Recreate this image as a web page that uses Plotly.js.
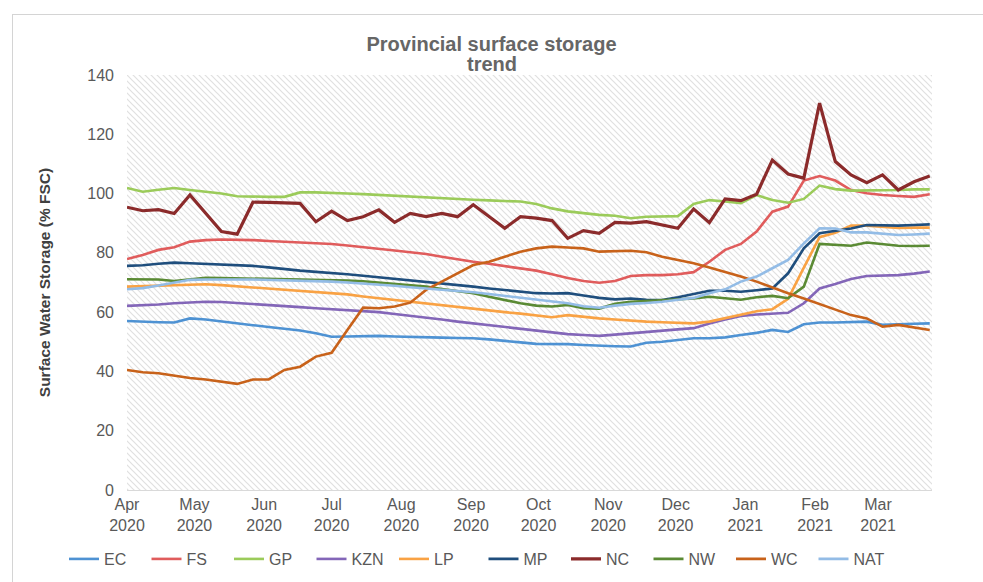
<!DOCTYPE html>
<html>
<head>
<meta charset="utf-8">
<script src="https://cdn.plot.ly/plotly-3.0.1.min.js"></script>
<style>
  html, body { margin: 0; padding: 0; background: #ffffff; }
  #chart { position: absolute; left: 0; top: 0; width: 983px; height: 582px; }
  #frame { position: absolute; left: 12px; top: 14px; width: 990px; height: 600px;
           border-top: 1px solid #d4d4d4; border-left: 1px solid #d4d4d4; pointer-events: none; }
</style>
</head>
<body>
<div id="chart"></div>
<div id="frame"></div>
<script>
// Weekly observation dates
const dates = [
  "2020-04-01","2020-04-08","2020-04-15","2020-04-22","2020-04-29",
  "2020-05-06","2020-05-13","2020-05-20","2020-05-27",
  "2020-06-03","2020-06-10","2020-06-17","2020-06-24",
  "2020-07-01","2020-07-08","2020-07-15","2020-07-22","2020-07-29",
  "2020-08-05","2020-08-12","2020-08-19","2020-08-26",
  "2020-09-02","2020-09-09","2020-09-16","2020-09-23","2020-09-30",
  "2020-10-07","2020-10-14","2020-10-21","2020-10-28",
  "2020-11-04","2020-11-11","2020-11-18","2020-11-25",
  "2020-12-02","2020-12-09","2020-12-16","2020-12-23","2020-12-30",
  "2021-01-06","2021-01-13","2021-01-20","2021-01-27",
  "2021-02-03","2021-02-10","2021-02-17","2021-02-24",
  "2021-03-03","2021-03-10","2021-03-17","2021-03-24"
];

const EC = [57,56.7,56.6,56.5,57.9,57.5,56.8,56.2,55.6,55,54.5,53.8,52.9,51.7,51.8,51.9,52,51.8,51.6,51.5,51.4,51.3,51.2,50.8,50.4,49.8,49.3,49.3,49.2,48.9,48.6,48.5,48.4,49.7,50,50.6,51.2,51.2,51.5,52.3,53,54,53.3,55.9,56.5,56.5,56.6,56.8,55.7,56,56.1,56.2];
const FS = [77.9,79.3,81,81.9,83.8,84.3,84.5,84.5,84.3,84,83.8,83.5,83.3,83,82.5,82,81.5,80.8,80.2,79.6,78.7,77.8,77,76.3,75.5,74.8,74,72.8,71.5,70.5,69.9,70.5,72.2,72.5,72.5,72.8,73.5,77,81,83,87.2,93.9,95.6,104.4,105.9,104.4,101.2,100.1,99.5,99.2,98.9,99.8];
const GP = [101.9,100.6,101.3,101.9,101.2,100.6,100,99.1,98.9,98.9,98.9,100.4,100.4,100.3,100,99.8,99.5,99.3,99,98.7,98.3,98,97.9,97.7,97.5,97.3,96.5,95,94,93.3,92.8,92.5,91.7,92.2,92.4,92.4,96.5,97.8,97.3,96.8,99.5,97.8,96.9,98.2,102.7,101.5,101,101,101.2,101.2,101.4,101.4];
const KZN = [62.1,62.3,62.6,63,63.3,63.5,63.4,63.1,62.8,62.4,62,61.7,61.3,61,60.7,60.4,60,59.4,58.8,58.3,57.5,56.8,56.2,55.6,55,54.5,54,53.2,52.6,52.3,52,52.4,52.9,53.3,53.8,54.2,54.6,56.2,57.5,58.7,59.2,59.6,59.8,63,68,69.5,71.2,72.2,72.4,72.5,73,73.7];
const LP = [68.6,68.8,69,69.2,69.3,69.4,69.1,68.7,68.3,68,67.6,67.2,66.8,66.4,66,65.3,64.7,64.1,63.5,62.8,62.2,61.6,61,60.5,60,59.5,59,58.3,59,58.4,57.9,57.5,57.1,56.8,56.6,56.3,56.2,56.8,58,59.3,60.3,61,64.5,75,85.3,86.8,89.2,89.2,88.8,88.4,88.5,88.5];
const MP = [75.6,75.8,76.3,76.7,76.5,76.3,76.2,76,75.6,75.1,74.5,74,73.6,73.3,72.8,72.3,71.8,71.2,70.8,70.3,69.8,69.2,68.6,68,67.4,66.8,66.4,66.3,66.4,65.6,64.8,64.3,64.6,64.2,64.1,65,66,67.2,67.2,66.9,67.4,68,73.1,81.5,86.6,87.4,88.2,89.4,89.3,89.2,89.4,89.6];
const NC = [95.4,94.2,94.6,93.3,99.5,93.5,87.2,86.3,97.1,97,96.9,96.7,90.5,94.1,90.9,92.2,94.5,90.3,93.3,92.2,93.3,92.2,96.2,92.3,88.3,92.2,91.7,90.9,84.9,87.5,86.6,90.3,90,90.5,89.4,88.3,94.8,90.2,98.2,97.6,99.8,111.3,106.6,105.2,130.5,110.8,106.3,103.7,106.3,101.2,104,105.9];
const NW = [71.1,71.1,71,70.5,71,71.6,71.5,71.4,71.3,71.2,71.1,71,71,70.9,70.7,70.4,70,69.5,69,68.6,67.8,67,66.4,65.2,64.1,63,62.2,61.9,62.4,61.3,61.2,62.8,63.5,63.8,64.1,64.4,64.6,65.2,64.8,64.2,65,65.5,64.7,68.6,83,82.7,82.4,83.5,83,82.4,82.3,82.4];
const WC = [40.5,39.7,39.4,38.5,37.8,37.3,36.5,35.8,37.3,37.3,40.5,41.6,45,46.3,54,61.5,61.3,61.9,63.2,67.5,70.3,73.1,75.9,77,78.7,80.4,81.5,82.1,81.8,81.5,80.4,80.6,80.7,80.2,78.7,77.6,76.5,75.1,73.6,72,70.3,68.3,66.4,64.6,62.8,60.9,59,57.9,55.1,55.7,54.8,54];
const NAT = [67.7,68.1,69,69.9,70.9,71,71.1,71,71,70.9,70.8,70.6,70.4,70.3,70,69.7,69.3,68.9,68.4,68,67.6,67.1,66.7,66.1,65.5,64.9,64.3,63.7,63,62,61.5,62.2,62.8,63.1,63.5,64.2,64.8,66.4,67.7,70.3,72,74.8,77.6,83.2,88.3,88.2,86.9,86.9,86.5,86,86.2,86.5];

const seriesNames = ["EC","FS","GP","KZN","LP","MP","NC","NW","WC","NAT"];
const seriesData = [EC, FS, GP, KZN, LP, MP, NC, NW, WC, NAT];
const seriesColors = ["#4E92D3","#E05C5C","#9BCB5A","#8366B8","#F9A244","#1F4E7D","#8B2B2B","#5A8A34","#C8621A","#93BCE6"];

const tickDates = ["2020-04-01","2020-05-01","2020-06-01","2020-07-01","2020-08-01","2020-09-01","2020-10-01","2020-11-01","2020-12-01","2021-01-01","2021-02-01","2021-03-01"];
const tickLabels = ["Apr<br>2020","May<br>2020","Jun<br>2020","Jul<br>2020","Aug<br>2020","Sep<br>2020","Oct<br>2020","Nov<br>2020","Dec<br>2020","Jan<br>2021","Feb<br>2021","Mar<br>2021"];

const titleLine1 = "Provincial surface storage";
const titleLine2 = "trend";

// first five entries in one legend block, last five in a second block (one row overall)
const traces = seriesNames.map((n, i) => ({
  type: "scatter", mode: "lines", name: n, x: dates, y: seriesData[i],
  legend: i < 5 ? "legend" : "legend2",
  line: { color: seriesColors[i], width: n === "NC" ? 3.2 : 2.6 }
}));

const hatchSvg = "<svg xmlns='http://www.w3.org/2000/svg' width='805' height='415'>" +
  "<defs><pattern id='h' width='6' height='6' patternUnits='userSpaceOnUse'>" +
  "<path d='M-1,-1 L7,7 M-1,5 L1,7 M5,-1 L7,1' stroke='#e0e0e0' stroke-width='1.2'/></pattern></defs>" +
  "<rect width='805' height='415' fill='#ffffff'/><rect width='805' height='415' fill='url(#h)'/></svg>";

const font = "Liberation Sans, Arial, sans-serif";
const titleFont = { family: font, size: 20, color: "#666666" };
const legendCommon = {
  orientation: "h", xref: "container", yref: "container",
  xanchor: "left", y: 0.0395, yanchor: "middle",
  font: { size: 16, color: "#595959", family: font },
  entrywidth: 37.5, entrywidthmode: "pixels", traceorder: "normal",
  bgcolor: "rgba(0,0,0,0)"
};
const layout = {
  width: 983, height: 582,
  paper_bgcolor: "#ffffff", plot_bgcolor: "#ffffff",
  margin: { l: 127, r: 51, t: 75, b: 92 },
  font: { family: font, color: "#595959", size: 16 },
  title: {
    text: "<b>" + titleLine1 + "</b>",
    font: titleFont,
    x: 0.5, xanchor: "center", yref: "container", y: 1 - 44 / 582, yanchor: "middle"
  },
  annotations: [{
    text: "<b>" + titleLine2 + "</b>", font: titleFont, showarrow: false,
    xref: "paper", yref: "paper", x: (491.5 - 127) / 805, xanchor: "center",
    y: (490 - 64) / 415, yanchor: "middle"
  }],
  xaxis: {
    type: "date", range: ["2020-04-01", "2021-03-25"],
    tickmode: "array", tickvals: tickDates, ticktext: tickLabels,
    showgrid: false, zeroline: false, showline: true, linecolor: "#d9d9d9", linewidth: 1,
    ticks: "", tickfont: { size: 16, color: "#595959", family: font }
  },
  yaxis: {
    range: [0, 140], dtick: 20, tick0: 0,
    showgrid: false, zeroline: false, showline: false, ticks: "",
    ticklabelstandoff: 12,
    tickfont: { size: 16, color: "#595959", family: font },
    title: { text: "<b>Surface Water Storage (% FSC)</b>", font: { size: 15.5, color: "#404040", family: font }, standoff: 32 }
  },
  showlegend: true,
  legend: Object.assign({}, legendCommon, { x: 64 / 983 }),
  legend2: Object.assign({}, legendCommon, { x: 483.5 / 983 }),
  images: [{
    source: "data:image/svg+xml;charset=utf-8," + encodeURIComponent(hatchSvg),
    xref: "paper", yref: "paper", x: 0, y: 1, sizex: 1, sizey: 1,
    xanchor: "left", yanchor: "top", sizing: "stretch", layer: "below"
  }]
};

Plotly.newPlot("chart", traces, layout, { displayModeBar: false, staticPlot: true });
</script>
</body>
</html>
